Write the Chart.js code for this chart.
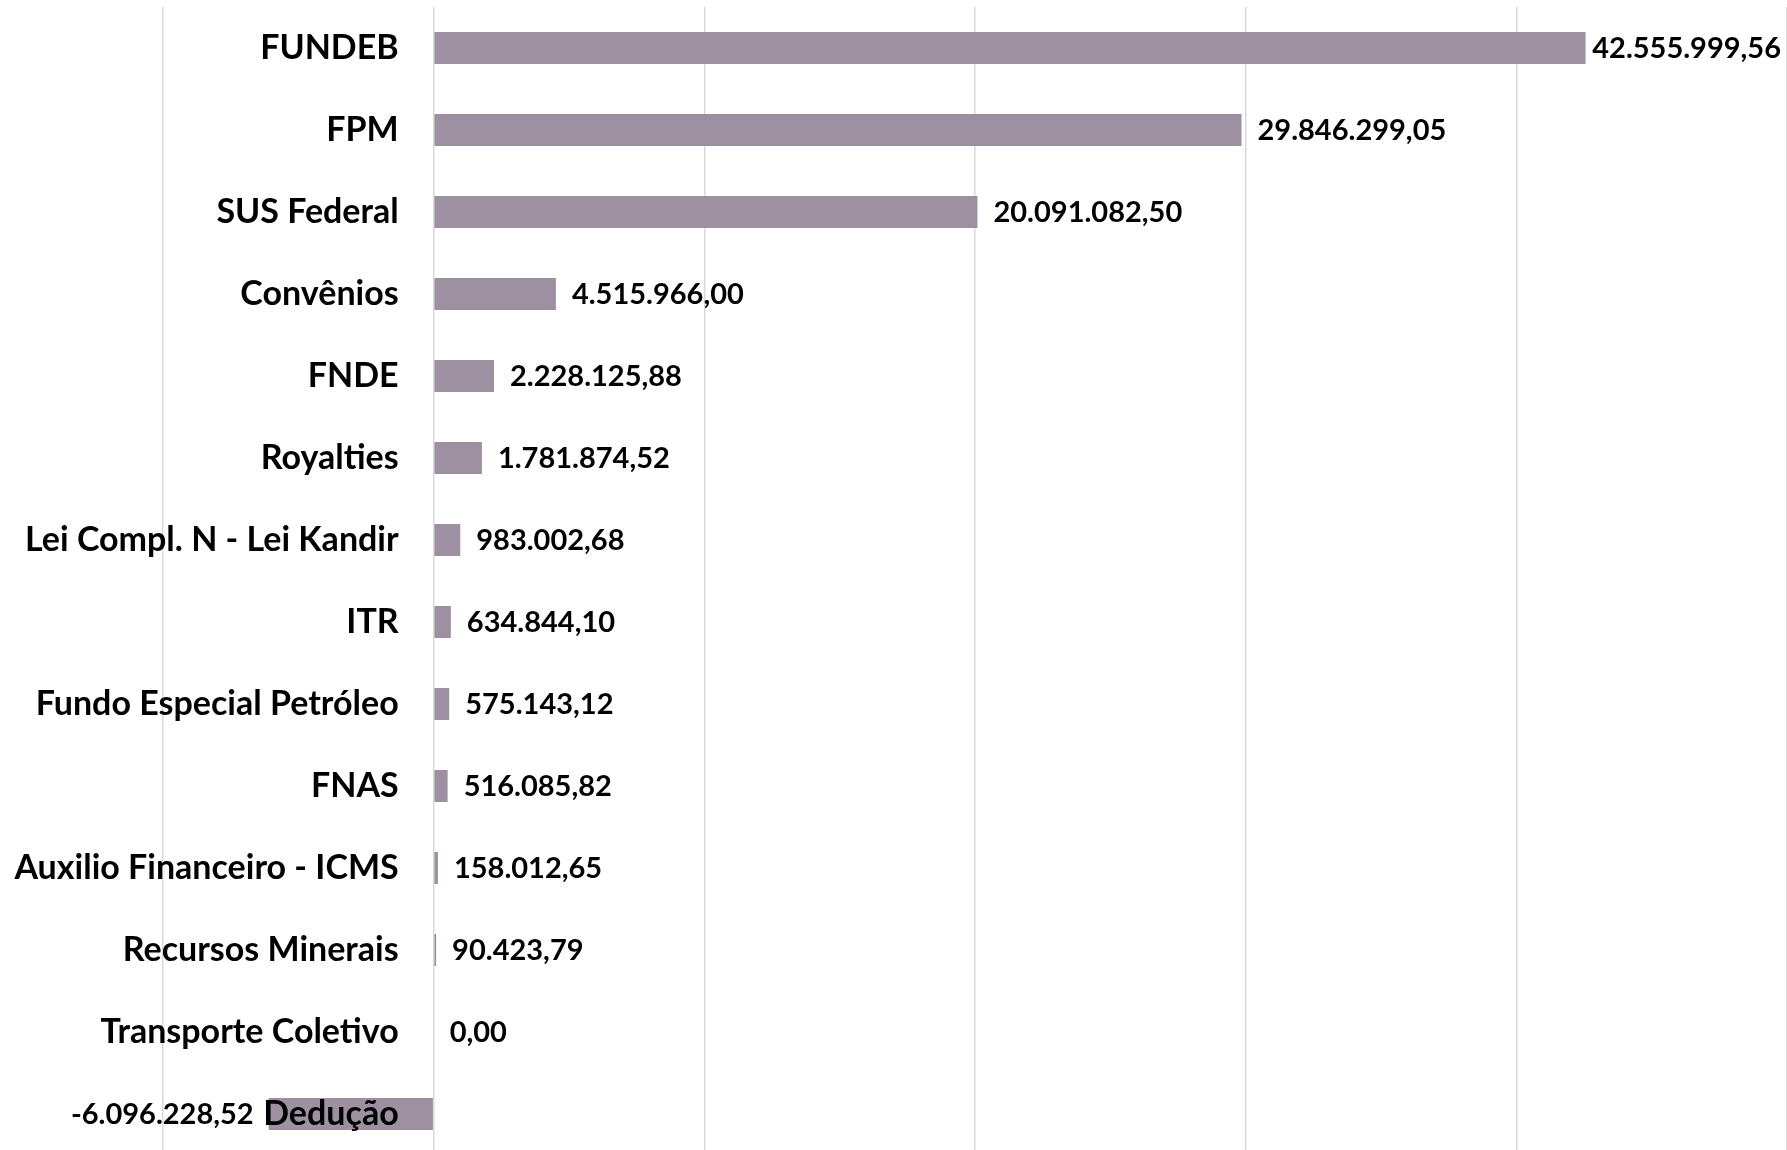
<!DOCTYPE html>
<html>
<head>
<meta charset="utf-8">
<script src="https://cdn.jsdelivr.net/npm/chart.js@4.4.0/dist/chart.umd.min.js"></script>
<style>
  html, body { margin: 0; padding: 0; background: #fff; overflow: hidden; }
  #wrap { width: 1787px; height: 1156px; }
</style>
</head>
<body>
<div id="wrap"><canvas id="barChart" width="1787" height="1156"></canvas></div>
<script>
// Receitas por fonte (R$)
const categories = [
  'FUNDEB', 'FPM', 'SUS Federal', 'Convênios', 'FNDE', 'Royalties',
  'Lei Compl. N - Lei Kandir', 'ITR', 'Fundo Especial Petróleo', 'FNAS',
  'Auxilio Financeiro - ICMS', 'Recursos Minerais', 'Transporte Coletivo', 'Dedução'
];
const values = [
  42555999.56, 29846299.05, 20091082.50, 4515966.00, 2228125.88, 1781874.52,
  983002.68, 634844.10, 575143.12, 516085.82, 158012.65, 90423.79, 0.00, -6096228.52
];
const axisMin = -10000000;
const axisMax = 50000000;
const axisStep = 10000000;

// format number as pt-BR: 1.234.567,89
function fmtBR(v) {
  const neg = v < 0;
  const parts = Math.abs(v).toFixed(2).split('.');
  const int = parts[0].replace(/\B(?=(\d{3})+(?!\d))/g, '.');
  return (neg ? '-' : '') + int + ',' + parts[1];
}

const FONT = 'Lato, "Open Sans", sans-serif';

// Draw category names next to the zero line and value labels at bar ends
const labelPlugin = {
  id: 'barLabels',
  afterDatasetsDraw(chart) {
    const ctx = chart.ctx;
    const xScale = chart.scales.x;
    const zero = xScale.getPixelForValue(0);
    const meta = chart.getDatasetMeta(0);
    ctx.save();
    ctx.fillStyle = '#000';
    ctx.textBaseline = 'middle';
    meta.data.forEach((bar, i) => {
      const y = bar.y;
      // value label
      ctx.font = 'bold 29px ' + FONT;
      const txt = fmtBR(values[i]);
      if (values[i] < 0) {
        ctx.textAlign = 'right';
        ctx.fillText(txt, bar.x - 15, y + 1);
      } else {
        ctx.textAlign = 'left';
        const w = ctx.measureText(txt).width;
        let x = bar.x + 16;
        if (x + w > chart.width - 6) x = chart.width - 6 - w;
        ctx.fillText(txt, x, y + 1);
      }
      // category label
      ctx.font = 'bold 34px ' + FONT;
      ctx.textAlign = 'right';
      ctx.fillText(categories[i], zero - 35, y);
    });
    ctx.restore();
  }
};

document.addEventListener('DOMContentLoaded', () => {
  const ctx = document.getElementById('barChart').getContext('2d');
  new Chart(ctx, {
    type: 'bar',
    data: {
      labels: categories,
      datasets: [{
        data: values,
        backgroundColor: '#9d90a0',
        borderWidth: 0,
        categoryPercentage: 1.0,
        barPercentage: 0.39
      }]
    },
    options: {
      indexAxis: 'y',
      responsive: false,
      animation: false,
      layout: { padding: { left: 163, right: 0, top: 7, bottom: 1 } },
      plugins: { legend: { display: false }, tooltip: { enabled: false } },
      scales: {
        x: {
          min: axisMin,
          max: axisMax,
          ticks: { display: false, stepSize: axisStep },
          grid: { color: '#d9d9d9', lineWidth: 1.5, drawTicks: false },
          border: { display: false }
        },
        y: { display: false }
      }
    },
    plugins: [labelPlugin]
  });
});
</script>
</body>
</html>
